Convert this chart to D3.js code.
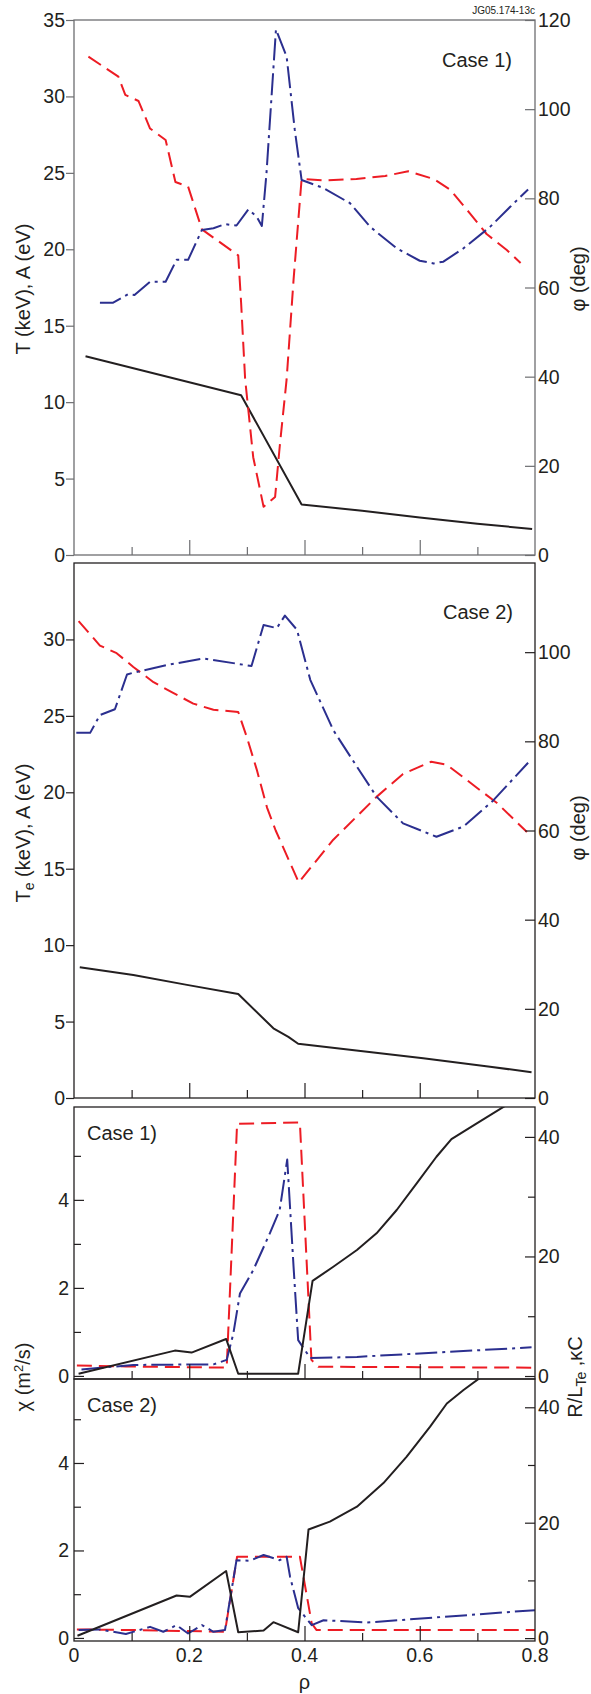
<!DOCTYPE html>
<html>
<head>
<meta charset="utf-8">
<script src="https://cdn.jsdelivr.net/npm/d3@7"></script>
<style>
	body { margin: 0; background: #fff; }
	svg text { font-family: "Liberation Sans", Arial, sans-serif; fill: #231f20; }
</style>
</head>
<body>
<div id="chart"></div>
<script>
// ---- data (rho on x, values per series) ----
const xTicks = [0, 0.2, 0.4, 0.6, 0.8];

// Case 1 profiles
const c1TeRho = [0.02, 0.29, 0.395, 0.5, 0.6, 0.7, 0.795];
const c1Te = [13.0, 10.45, 3.3, 2.9, 2.45, 2.05, 1.7];
const c1ARho = [0.025, 0.077, 0.089, 0.112, 0.132, 0.159, 0.176, 0.198, 0.222, 0.285, 0.29, 0.297, 0.311, 0.329, 0.349, 0.357, 0.369, 0.381, 0.395, 0.433, 0.49, 0.54, 0.58, 0.624, 0.653, 0.687, 0.716, 0.751, 0.775];
const c1A = [32.6, 31.3, 30.1, 29.7, 27.9, 27.15, 24.4, 24.1, 21.3, 19.6, 16.5, 11.5, 6.4, 3.15, 3.8, 7.1, 11.5, 18.0, 24.6, 24.5, 24.6, 24.8, 25.1, 24.6, 23.9, 22.35, 21.0, 19.95, 19.1];
const c1PhiRho = [0.045, 0.068, 0.094, 0.105, 0.132, 0.159, 0.178, 0.198, 0.222, 0.242, 0.262, 0.282, 0.3025, 0.317, 0.326, 0.334, 0.3505, 0.369, 0.383, 0.395, 0.433, 0.479, 0.514, 0.56, 0.6, 0.624, 0.641, 0.676, 0.722, 0.757, 0.788];
const c1Phi = [56.6, 56.6, 58.5, 58.3, 61.3, 61.3, 66.2, 66.2, 72.9, 73.3, 74.2, 73.9, 77.5, 75.9, 73.8, 85.6, 117.9, 111.8, 95.5, 84.1, 82.3, 78.9, 73.6, 68.8, 66.0, 65.4, 65.8, 68.8, 73.6, 78.1, 82.0];

// Case 2 profiles
const c2TeRho = [0.01, 0.103, 0.196, 0.285, 0.346, 0.372, 0.389, 0.49, 0.606, 0.722, 0.794];
const c2Te = [8.55, 8.05, 7.4, 6.8, 4.56, 4.0, 3.55, 3.1, 2.6, 2.05, 1.68];
const c2ARho = [0.008, 0.045, 0.074, 0.103, 0.138, 0.172, 0.207, 0.242, 0.285, 0.3, 0.317, 0.335, 0.35, 0.363, 0.39, 0.45, 0.525, 0.571, 0.62, 0.647, 0.699, 0.734, 0.786];
const c2A = [31.2, 29.6, 29.1, 28.2, 27.2, 26.5, 25.8, 25.4, 25.25, 23.6, 21.5, 19.0, 17.5, 16.4, 14.1, 16.9, 19.7, 21.2, 22.0, 21.8, 20.3, 19.3, 17.4];
const c2PhiRho = [0.004, 0.028, 0.045, 0.071, 0.092, 0.103, 0.161, 0.224, 0.308, 0.329, 0.352, 0.366, 0.387, 0.41, 0.45, 0.491, 0.525, 0.571, 0.629, 0.676, 0.728, 0.788];
const c2Phi = [81.9, 81.9, 85.9, 87.2, 95.0, 95.4, 97.1, 98.6, 96.9, 106.1, 105.4, 108.2, 105.0, 93.8, 82.5, 74.3, 67.6, 61.6, 58.6, 60.9, 66.8, 75.2];

// Case 1 transport
const c1ChiRho = [0.008, 0.175, 0.204, 0.264, 0.285, 0.389, 0.414, 0.45, 0.491, 0.525, 0.56, 0.595, 0.629, 0.655, 0.699, 0.75];
const c1Chi = [0.05, 0.575, 0.53, 0.84, 0.05, 0.05, 2.16, 2.48, 2.86, 3.24, 3.77, 4.38, 4.98, 5.38, 5.74, 6.15];
const c1RLRho = [0.005, 0.09, 0.265, 0.283, 0.392, 0.412, 0.424, 0.794];
const c1RL = [1.75, 1.6, 1.4, 42.2, 42.4, 2.7, 1.55, 1.4];
const c1KCRho = [0.013, 0.103, 0.242, 0.265, 0.2765, 0.288, 0.311, 0.34, 0.357, 0.37, 0.381, 0.389, 0.41, 0.491, 0.794];
const c1KC = [1.1, 1.85, 1.95, 2.7, 7.1, 13.8, 17.7, 23.9, 27.8, 36.2, 18.3, 6.0, 3.0, 3.2, 4.8];

// Case 2 transport
const c2ChiRho = [0.006, 0.178, 0.201, 0.264, 0.285, 0.329, 0.346, 0.389, 0.407, 0.444, 0.491, 0.537, 0.577, 0.618, 0.647, 0.676, 0.705];
const c2Chi = [0.05, 0.97, 0.94, 1.53, 0.13, 0.17, 0.36, 0.13, 2.48, 2.66, 3.0, 3.54, 4.14, 4.83, 5.36, 5.67, 5.95];
const c2RLRho = [0.005, 0.103, 0.262, 0.283, 0.392, 0.4125, 0.421, 0.8];
const c2RL = [1.5, 1.4, 1.1, 14.1, 14.1, 2.55, 1.4, 1.4];
const c2KCRho = [0.008, 0.045, 0.09, 0.132, 0.155, 0.178, 0.198, 0.222, 0.242, 0.262, 0.282, 0.305, 0.329, 0.357, 0.369, 0.375, 0.389, 0.4125, 0.433, 0.508, 0.8];
const c2KC = [1.4, 1.5, 0.7, 1.95, 1.1, 2.25, 0.8, 2.25, 1.1, 1.4, 13.5, 13.4, 14.4, 13.5, 14.1, 10.6, 5.2, 2.25, 3.1, 2.7, 4.85];

// ---- drawing ----
const width = 591;
const height = 1694;
const RED = "#ed1c24";
const BLUE = "#2b2f8f";
const BLACK = "#231f20";
const RED_DASH = "15,7";
const BLUE_DASH = "22,5,3,5";
const fontSize = "19.5px";
const titleSize = "20px";

var svg = d3.select("#chart")
	.append("svg")
	.attr("width", width)
	.attr("height", height);

var x = d3.scaleLinear()
	.domain([0, 0.8])
	.range([74, 535]);

function zip(rho, vals) {
	return rho.map((r, i) => [r, vals[i]]);
}

// tick labels drawn by hand so the axis groups only hold lines
function tickLabels(g, scale, values, dx, anchor) {
	g.selectAll("text.lbl")
		.data(values)
		.enter()
		.append("text")
		.attr("class", "lbl")
		.attr("x", dx)
		.attr("y", d => scale(d))
		.attr("dy", "0.36em")
		.attr("text-anchor", anchor)
		.style("font-size", fontSize)
		.text(d => d);
}

// one panel: frame, axes, clipped lines
function drawPanel(p, idx) {
	var yL = d3.scaleLinear().domain(p.leftDomain).range([p.bottom, p.top]);
	var yR = d3.scaleLinear().domain(p.rightDomain).range([p.bottom, p.top]);

	svg.append("clipPath")
		.attr("id", "clip" + idx)
		.append("rect")
		.attr("x", x(0))
		.attr("y", p.top)
		.attr("width", x(0.8) - x(0))
		.attr("height", p.bottom - p.top);

	var lines = svg.append("g").attr("clip-path", "url(#clip" + idx + ")");
	p.series.forEach(s => {
		var y = s.axis == "left" ? yL : yR;
		var line = d3.line()
			.x(d => x(d[0]))
			.y(d => y(d[1]));
		lines.append("path")
			.attr("fill", "none")
			.attr("stroke", s.color)
			.attr("stroke-width", 2)
			.attr("stroke-linejoin", "round")
			.attr("stroke-dasharray", s.dash)
			.attr("d", line(zip(s.rho, s.vals)));
	});

	// frame
	svg.append("rect")
		.attr("x", x(0))
		.attr("y", p.top)
		.attr("width", x(0.8) - x(0))
		.attr("height", p.bottom - p.top)
		.attr("fill", "none")
		.attr("stroke", p.frame)
		.attr("stroke-width", 1.3);

	// bottom ticks (inward), major + minor
	var bottomG = svg.append("g").attr("transform", "translate(0," + p.bottom + ")");
	bottomG.append("g").call(d3.axisTop(x).tickValues([0.2, 0.4, 0.6]).tickSize(15).tickFormat(""));
	bottomG.append("g").call(d3.axisTop(x).tickValues([0.1, 0.3, 0.5, 0.7]).tickSize(8).tickFormat(""));

	// left axis: outward ticks on the profile panels, inward on the chi panels
	var leftG = svg.append("g").attr("transform", "translate(" + x(0) + ",0)");
	if (p.leftInward) {
		leftG.append("g").call(d3.axisRight(yL).tickValues(p.leftTicks).tickSize(10).tickFormat(""));
		leftG.append("g").call(d3.axisRight(yL).tickValues(p.leftMinor).tickSize(7).tickFormat(""));
		tickLabels(leftG, yL, p.leftTicks, -5, "end");
	} else {
		leftG.append("g").call(d3.axisLeft(yL).tickValues(p.leftTicks).tickSize(8).tickFormat(""));
		tickLabels(leftG, yL, p.leftTicks, -9, "end");
	}

	// right axis (ticks inward)
	var rightG = svg.append("g").attr("transform", "translate(" + x(0.8) + ",0)");
	rightG.append("g").call(d3.axisLeft(yR).tickValues(p.rightTicks).tickSize(10).tickFormat(""));
	if (p.rightMinor) {
		rightG.append("g").call(d3.axisLeft(yR).tickValues(p.rightMinor).tickSize(7).tickFormat(""));
	}
	tickLabels(rightG, yR, p.rightTicks, 3, "start");

	[bottomG, leftG, rightG].forEach(g => {
		g.selectAll(".domain").remove();
		g.selectAll(".tick text").remove();
		g.selectAll("line").attr("stroke", p.frame).attr("stroke-width", 1.2);
	});

	// case label
	svg.append("text")
		.attr("x", p.caseX)
		.attr("y", p.caseY)
		.attr("dy", "0.36em")
		.style("font-size", titleSize)
		.text(p.caseText);
}

var panels = [
	{
		top: 20, bottom: 555, frame: "#6d6e71",
		leftDomain: [0, 35], rightDomain: [0, 120],
		leftTicks: d3.range(0, 36, 5), rightTicks: d3.range(0, 121, 20),
		caseText: "Case 1)", caseX: 442, caseY: 60,
		series: [
			{ rho: c1TeRho, vals: c1Te, axis: "left", color: BLACK, dash: null },
			{ rho: c1ARho, vals: c1A, axis: "left", color: RED, dash: RED_DASH },
			{ rho: c1PhiRho, vals: c1Phi, axis: "right", color: BLUE, dash: BLUE_DASH }
		]
	},
	{
		top: 563, bottom: 1098, frame: "#231f20",
		leftDomain: [0, 35], rightDomain: [0, 120],
		leftTicks: d3.range(0, 31, 5), rightTicks: d3.range(0, 101, 20),
		caseText: "Case 2)", caseX: 443, caseY: 612,
		series: [
			{ rho: c2TeRho, vals: c2Te, axis: "left", color: BLACK, dash: null },
			{ rho: c2ARho, vals: c2A, axis: "left", color: RED, dash: RED_DASH },
			{ rho: c2PhiRho, vals: c2Phi, axis: "right", color: BLUE, dash: BLUE_DASH }
		]
	},
	{
		top: 1107, bottom: 1379, frame: "#231f20",
		leftDomain: [-0.07, 6.11], rightDomain: [-0.5, 45],
		leftInward: true,
		leftTicks: [0, 2, 4], leftMinor: [1, 3, 5], rightTicks: [0, 20, 40], rightMinor: [10, 30],
		caseText: "Case 1)", caseX: 87, caseY: 1133,
		series: [
			{ rho: c1RLRho, vals: c1RL, axis: "right", color: RED, dash: RED_DASH },
			{ rho: c1KCRho, vals: c1KC, axis: "right", color: BLUE, dash: BLUE_DASH },
			{ rho: c1ChiRho, vals: c1Chi, axis: "left", color: BLACK, dash: null }
		]
	},
	{
		top: 1379, bottom: 1641, frame: "#231f20",
		leftDomain: [-0.07, 5.92], rightDomain: [-0.5, 44.9],
		leftInward: true,
		leftTicks: [0, 2, 4], leftMinor: [1, 3, 5], rightTicks: [0, 20, 40], rightMinor: [10, 30],
		caseText: "Case 2)", caseX: 87, caseY: 1405,
		series: [
			{ rho: c2RLRho, vals: c2RL, axis: "right", color: RED, dash: RED_DASH },
			{ rho: c2KCRho, vals: c2KC, axis: "right", color: BLUE, dash: BLUE_DASH },
			{ rho: c2ChiRho, vals: c2Chi, axis: "left", color: BLACK, dash: null }
		]
	}
];

panels.forEach((p, i) => drawPanel(p, i));

// x tick labels under the last panel
svg.append("g")
	.selectAll("text")
	.data(xTicks)
	.enter()
	.append("text")
	.attr("x", d => x(d))
	.attr("y", 1655)
	.attr("dy", "0.36em")
	.attr("text-anchor", "middle")
	.style("font-size", fontSize)
	.text(d => d == 0 ? "0" : d3.format(".1f")(d));

svg.append("text")
	.attr("x", x(0.4))
	.attr("y", 1682)
	.attr("dy", "0.36em")
	.attr("text-anchor", "middle")
	.style("font-size", titleSize)
	.text("ρ");

// axis titles (rotated, reading upward)
function vtitle(cx, cy, build) {
	var t = svg.append("text")
		.attr("transform", "translate(" + cx + "," + cy + ") rotate(-90)")
		.attr("text-anchor", "middle")
		.attr("dy", "0.36em")
		.style("font-size", titleSize);
	build(t);
}

vtitle(23, 289, t => t.text("T (keV), A (eV)"));
vtitle(23, 833, t => {
	t.append("tspan").text("T");
	t.append("tspan").attr("dy", 4).style("font-size", "14px").text("e");
	t.append("tspan").attr("dy", -4).text(" (keV), A (eV)");
});
vtitle(23, 1377, t => {
	t.append("tspan").text("χ (m");
	t.append("tspan").attr("dy", -7).style("font-size", "13px").text("2");
	t.append("tspan").attr("dy", 7).text("/s)");
});
vtitle(578, 279, t => t.text("φ (deg)"));
vtitle(578, 828, t => t.text("φ (deg)"));
vtitle(575, 1377, t => {
	t.append("tspan").text("R/L");
	t.append("tspan").attr("dy", 4).style("font-size", "14px").text("Te");
	t.append("tspan").attr("dy", -4).text(" ,κC");
});

// figure id
svg.append("text")
	.attr("x", 535)
	.attr("y", 10)
	.attr("dy", "0.36em")
	.attr("text-anchor", "end")
	.style("font-size", "10px")
	.text("JG05.174-13c");
</script>
</body>
</html>
